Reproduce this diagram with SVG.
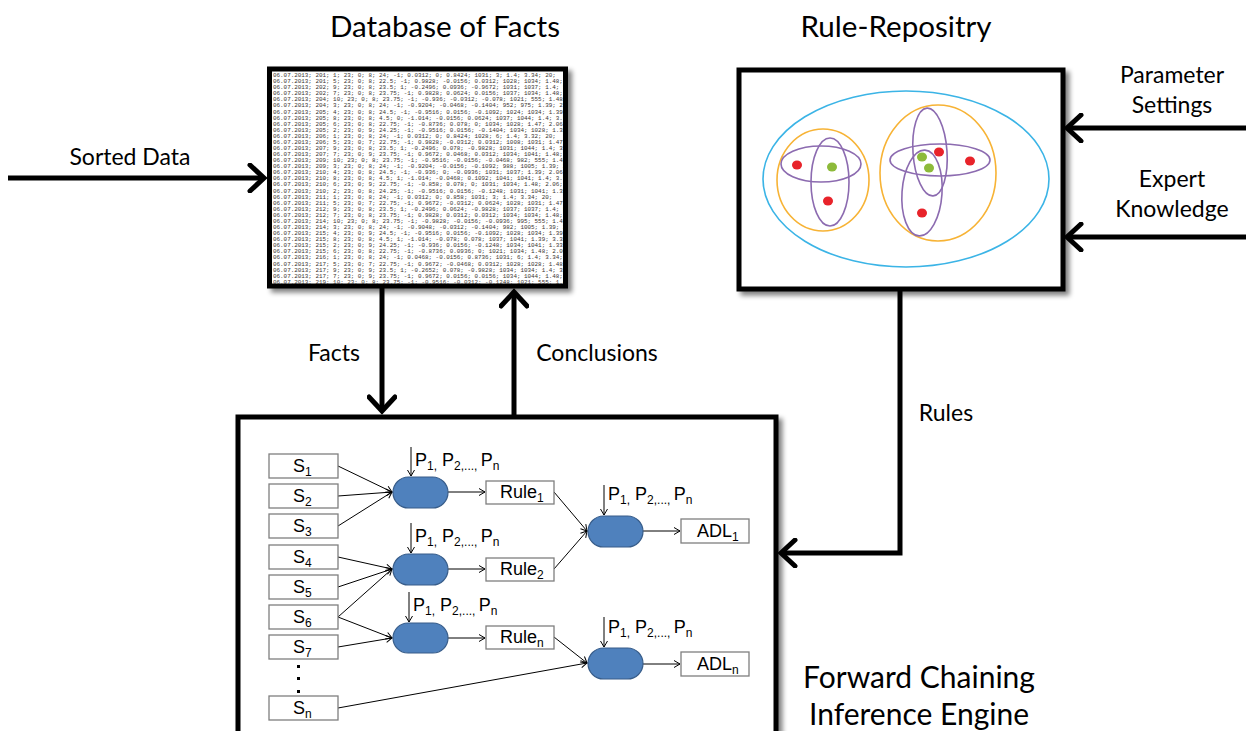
<svg xmlns="http://www.w3.org/2000/svg" width="1246" height="731" viewBox="0 0 1246 731">
<style>
.title{font-family:Lato,"Open Sans",sans-serif;font-size:29.6px;fill:#000}
.lbl{font-family:Lato,"Open Sans",sans-serif;font-size:23px;fill:#000}
.big{font-family:Lato,"Open Sans",sans-serif;font-size:30px;fill:#000}
.frame{fill:#fff;stroke:#000;stroke-width:5}
.data{font-family:"Liberation Mono",monospace;font-size:5.9px;fill:#3a3430}
.thick{stroke:#000;stroke-width:5;fill:none}
.thin{stroke:#000;stroke-width:1;fill:none}
.sbox{fill:#fff;stroke:#7f7f7f;stroke-width:1.3}
.oval{fill:#4f81bd;stroke:#385d8a;stroke-width:1.2}
.t{font-family:"Liberation Sans",Arial,sans-serif;font-size:18px;fill:#000}
.blue{fill:none;stroke:#3bb4e6;stroke-width:1.6}
.orange{fill:none;stroke:#f7b335;stroke-width:1.6}
.purple{fill:none;stroke:#8c6bb0;stroke-width:1.6}
.red{fill:#e8232a}
.green{fill:#8dba3a}
</style>
<defs>
<filter id="sh" x="-5%" y="-5%" width="115%" height="115%">
<feGaussianBlur in="SourceAlpha" stdDeviation="2.5"/>
<feOffset dx="4" dy="4" result="b"/>
<feComponentTransfer><feFuncA type="linear" slope="0.5"/></feComponentTransfer>
<feMerge><feMergeNode/><feMergeNode in="SourceGraphic"/></feMerge>
</filter>
<marker id="chev" markerUnits="userSpaceOnUse" markerWidth="30" markerHeight="30" viewBox="0 0 30 30" refX="17" refY="15" orient="auto">
<path d="M3,2 L17,15 L3,28" fill="none" stroke="#000" stroke-width="5" stroke-linecap="round" stroke-linejoin="miter"/>
</marker>
<marker id="sm" markerUnits="userSpaceOnUse" markerWidth="10" markerHeight="10" viewBox="0 0 10 10" refX="8" refY="5" orient="auto">
<path d="M2,1.5 L8,5 L2,8.5" fill="none" stroke="#000" stroke-width="1"/>
</marker>
<clipPath id="dbclip"><rect x="272" y="71" width="291" height="213"/></clipPath>
</defs>

<text class="title" x="445" y="37" text-anchor="middle">Database of Facts</text>
<text class="title" x="896" y="37" text-anchor="middle">Rule-Repositry</text>

<g id="connectors">
<path class="thick" d="M8,178 L264,178" marker-end="url(#chev)"/>
<path class="thick" d="M382,288 L382,411" marker-end="url(#chev)"/>
<path class="thick" d="M514,415 L514,292" marker-end="url(#chev)"/>
<path class="thick" d="M900,289 L900,553 L781,553" marker-end="url(#chev)"/>
<path class="thick" d="M1246,128 L1067,128" marker-end="url(#chev)"/>
<path class="thick" d="M1246,237 L1067,237" marker-end="url(#chev)"/>
</g>

<text class="lbl" x="130" y="165" text-anchor="middle">Sorted Data</text>
<text class="lbl" x="334" y="361" text-anchor="middle">Facts</text>
<text class="lbl" x="597" y="361" text-anchor="middle">Conclusions</text>
<text class="lbl" x="946" y="421" text-anchor="middle">Rules</text>
<text class="lbl" x="1172" y="83" text-anchor="middle">Parameter</text>
<text class="lbl" x="1172" y="113" text-anchor="middle">Settings</text>
<text class="lbl" x="1172" y="187" text-anchor="middle">Expert</text>
<text class="lbl" x="1172" y="217" text-anchor="middle">Knowledge</text>

<g id="database">
<rect class="frame" x="269.5" y="69" width="296" height="217" filter="url(#sh)"/>
<g clip-path="url(#dbclip)" class="data">
<text x="273" y="77">06.07.2013; 201; 1; 23; 0; 8; 24; -1; 0.0312; 0; 0.8424; 1031; 3; 1.4; 3.34; 20;</text>
<text x="273" y="83.1">06.07.2013; 201; 5; 23; 0; 8; 22.5; -1; 0.9828; -0.0156; 0.0312; 1028; 1034; 1.48; 2.08; 20;</text>
<text x="273" y="89.2">06.07.2013; 202; 9; 23; 0; 8; 23.5; 1; -0.2496; 0.0936; -0.9672; 1031; 1037; 1.4; 3.32; 150;</text>
<text x="273" y="95.2">06.07.2013; 202; 7; 23; 0; 8; 23.75; -1; 0.9828; 0.0624; 0.0156; 1037; 1034; 1.48; 2.06; 20;</text>
<text x="273" y="101.3">06.07.2013; 204; 10; 23; 0; 8; 23.75; -1; -0.936; -0.0312; -0.078; 1021; 555; 1.48; 2.06; 20;</text>
<text x="273" y="107.4">06.07.2013; 204; 3; 23; 0; 8; 24; -1; -0.9204; -0.0468; -0.1404; 952; 975; 1.39; 2.08; 4;</text>
<text x="273" y="113.5">06.07.2013; 205; 4; 23; 0; 8; 24.5; -1; -0.9516; 0.0156; -0.1092; 1024; 1034; 1.39; 2.06; 4;</text>
<text x="273" y="119.6">06.07.2013; 205; 8; 23; 0; 8; 4.5; 0; -1.014; -0.0156; 0.0624; 1037; 1044; 1.4; 3.32; 22;</text>
<text x="273" y="125.6">06.07.2013; 205; 6; 23; 0; 8; 22.75; -1; -0.8736; 0.078; 0; 1034; 1028; 1.47; 2.06; 20;</text>
<text x="273" y="131.7">06.07.2013; 205; 2; 23; 0; 9; 24.25; -1; -0.9516; 0.0156; -0.1404; 1034; 1028; 1.33; 2.06; 4;</text>
<text x="273" y="137.8">06.07.2013; 206; 1; 23; 0; 8; 24; -1; 0.0312; 0; 0.8424; 1028; 6; 1.4; 3.32; 20;</text>
<text x="273" y="143.9">06.07.2013; 206; 5; 23; 0; 7; 22.75; -1; 0.9828; -0.0312; 0.0312; 1008; 1031; 1.47; 2.08; 20;</text>
<text x="273" y="150">06.07.2013; 207; 9; 23; 0; 8; 23.5; 1; -0.2496; 0.078; -0.9828; 1031; 1044; 1.4; 3.32; 150;</text>
<text x="273" y="156">06.07.2013; 207; 7; 23; 0; 9; 23.75; -1; 0.9672; 0.0468; 0.0312; 1034; 1041; 1.48; 2.06; 20;</text>
<text x="273" y="162.1">06.07.2013; 209; 10; 23; 0; 8; 23.75; -1; -0.9516; -0.0156; -0.0468; 982; 555; 1.45; 2.06; 20;</text>
<text x="273" y="168.2">06.07.2013; 209; 3; 23; 0; 8; 24; -1; -0.9204; -0.0156; -0.1092; 988; 1005; 1.39; 2.08; 4;</text>
<text x="273" y="174.3">06.07.2013; 210; 4; 23; 0; 8; 24.5; -1; -0.936; 0; -0.0936; 1031; 1037; 1.39; 2.06; 4;</text>
<text x="273" y="180.4">06.07.2013; 210; 8; 23; 0; 8; 4.5; 1; -1.014; -0.0468; 0.1092; 1041; 1041; 1.4; 3.32; 150;</text>
<text x="273" y="186.4">06.07.2013; 210; 6; 23; 0; 9; 22.75; -1; -0.858; 0.078; 0; 1031; 1034; 1.48; 2.06; 20;</text>
<text x="273" y="192.5">06.07.2013; 210; 2; 23; 0; 8; 24.25; -1; -0.9516; 0.0156; -0.1248; 1031; 1041; 1.33; 2.06; 4;</text>
<text x="273" y="198.6">06.07.2013; 211; 1; 23; 0; 8; 24; -1; 0.0312; 0; 0.858; 1031; 3; 1.4; 3.34; 20;</text>
<text x="273" y="204.7">06.07.2013; 211; 5; 23; 0; 7; 22.75; -1; 0.9672; -0.0312; 0.0624; 1028; 1031; 1.47; 2.08; 20;</text>
<text x="273" y="210.8">06.07.2013; 212; 9; 23; 0; 8; 23.5; 1; -0.2496; 0.0624; -0.9828; 1037; 1037; 1.4; 3.32; 150;</text>
<text x="273" y="216.8">06.07.2013; 212; 7; 23; 0; 8; 23.75; -1; 0.9828; 0.0312; 0.0312; 1034; 1034; 1.48; 2.06; 20;</text>
<text x="273" y="222.9">06.07.2013; 214; 10; 23; 0; 8; 23.75; -1; -0.9828; -0.0156; -0.0936; 995; 555; 1.45; 2.06; 20;</text>
<text x="273" y="229">06.07.2013; 214; 3; 23; 0; 8; 24; -1; -0.9048; -0.0312; -0.1404; 982; 1005; 1.39; 2.08; 4;</text>
<text x="273" y="235.1">06.07.2013; 215; 4; 23; 0; 9; 24.5; -1; -0.9516; 0.0156; -0.1092; 1028; 1034; 1.39; 2.06; 4;</text>
<text x="273" y="241.2">06.07.2013; 215; 8; 23; 0; 8; 4.5; 1; -1.014; -0.078; 0.078; 1037; 1041; 1.39; 3.32; 150;</text>
<text x="273" y="247.2">06.07.2013; 215; 2; 23; 0; 9; 24.25; -1; -0.936; 0.0156; -0.1248; 1034; 1041; 1.33; 2.06; 4;</text>
<text x="273" y="253.3">06.07.2013; 215; 6; 23; 0; 8; 22.75; -1; -0.8736; 0.0936; 0; 1021; 1034; 1.48; 2.06; 20;</text>
<text x="273" y="259.4">06.07.2013; 216; 1; 23; 0; 8; 24; -1; 0.0468; -0.0156; 0.8736; 1031; 6; 1.4; 3.34; 20;</text>
<text x="273" y="265.5">06.07.2013; 217; 5; 23; 0; 7; 22.75; -1; 0.9672; -0.0468; 0.0312; 1028; 1028; 1.48; 2.08; 20;</text>
<text x="273" y="271.6">06.07.2013; 217; 9; 23; 0; 9; 23.5; 1; -0.2652; 0.078; -0.9828; 1034; 1034; 1.4; 3.32; 150;</text>
<text x="273" y="277.6">06.07.2013; 217; 7; 23; 0; 9; 23.75; -1; 0.9672; 0.0156; 0.0156; 1034; 1044; 1.48; 2.06; 20;</text>
<text x="273" y="283.7">06.07.2013; 219; 10; 23; 0; 8; 23.75; -1; -0.9516; -0.0312; -0.1248; 1021; 555; 1.46; 2.06; 20;</text>
<text x="273" y="289.8">06.07.2013; 219; 3; 23; 0; 8; 24; -1; -0.9204; -0.0156; -0.1248; 982; 1005; 1.39; 2.08; 4;</text>
</g>
</g>

<g id="rule-repository">
<rect class="frame" x="739" y="70" width="324" height="219" filter="url(#sh)"/>
<ellipse class="blue" cx="906" cy="179" rx="143" ry="88"/>
<ellipse class="orange" cx="823" cy="180" rx="46" ry="51"/>
<ellipse class="purple" cx="821" cy="164" rx="40" ry="18"/>
<ellipse class="purple" cx="830" cy="182" rx="19" ry="44"/>
<ellipse class="red" cx="797" cy="165" rx="5" ry="4.5"/>
<ellipse class="green" cx="832" cy="167" rx="5" ry="4.5"/>
<ellipse class="red" cx="828" cy="201" rx="5" ry="4.5"/>
<ellipse class="orange" cx="938" cy="173" rx="58" ry="68"/>
<ellipse class="purple" cx="940" cy="160" rx="50" ry="16"/>
<ellipse class="purple" cx="930" cy="152" rx="17" ry="44" transform="rotate(-4 930 152)"/>
<ellipse class="purple" cx="922" cy="193" rx="20" ry="43" transform="rotate(4 922 193)"/>
<ellipse class="green" cx="922" cy="157" rx="5" ry="4.5"/>
<ellipse class="red" cx="939" cy="152" rx="5" ry="4.5"/>
<ellipse class="green" cx="929" cy="168" rx="5" ry="4.5"/>
<ellipse class="red" cx="970" cy="161" rx="5" ry="4.5"/>
<ellipse class="red" cx="922" cy="213" rx="5" ry="4.5"/>
</g>

<g id="inference-engine">
<rect class="frame" x="238" y="417" width="538" height="330" filter="url(#sh)"/>
<text class="big" x="919" y="688" text-anchor="middle">Forward Chaining</text>
<text class="big" x="919" y="725" text-anchor="middle">Inference Engine</text>

<g id="engine-links">
<path class="thin" d="M338,466 L392,492" marker-end="url(#sm)"/>
<path class="thin" d="M338,496 L392,492" marker-end="url(#sm)"/>
<path class="thin" d="M338,526 L392,492" marker-end="url(#sm)"/>
<path class="thin" d="M338,557 L392,569" marker-end="url(#sm)"/>
<path class="thin" d="M338,587 L392,569" marker-end="url(#sm)"/>
<path class="thin" d="M338,617 L392,569" marker-end="url(#sm)"/>
<path class="thin" d="M338,617 L392,638" marker-end="url(#sm)"/>
<path class="thin" d="M338,647 L392,638" marker-end="url(#sm)"/>
<path class="thin" d="M338,708 L587,663" marker-end="url(#sm)"/>
<path class="thin" d="M448,492 L485,492" marker-end="url(#sm)"/>
<path class="thin" d="M448,569 L485,569" marker-end="url(#sm)"/>
<path class="thin" d="M448,638 L485,638" marker-end="url(#sm)"/>
<path class="thin" d="M554,492 L587,531" marker-end="url(#sm)"/>
<path class="thin" d="M554,569 L587,531" marker-end="url(#sm)"/>
<path class="thin" d="M554,637 L587,663" marker-end="url(#sm)"/>
<path class="thin" d="M643,531 L680,531" marker-end="url(#sm)"/>
<path class="thin" d="M643,664 L680,664" marker-end="url(#sm)"/>
<path class="thin" d="M411,447 L411,476" marker-end="url(#sm)"/>
<path class="thin" d="M411,523 L411,553" marker-end="url(#sm)"/>
<path class="thin" d="M409,592 L409,622" marker-end="url(#sm)"/>
<path class="thin" d="M604,485 L604,515" marker-end="url(#sm)"/>
<path class="thin" d="M604,617 L604,647" marker-end="url(#sm)"/>
</g>

<g id="S1"><rect class="sbox" x="269" y="454" width="69" height="24"/><text class="t" x="293" y="472">S<tspan font-size="12" dy="4">1</tspan></text></g>
<g id="S2"><rect class="sbox" x="269" y="484" width="69" height="24"/><text class="t" x="293" y="502">S<tspan font-size="12" dy="4">2</tspan></text></g>
<g id="S3"><rect class="sbox" x="269" y="514" width="69" height="24"/><text class="t" x="293" y="532">S<tspan font-size="12" dy="4">3</tspan></text></g>
<g id="S4"><rect class="sbox" x="269" y="545" width="69" height="24"/><text class="t" x="293" y="563">S<tspan font-size="12" dy="4">4</tspan></text></g>
<g id="S5"><rect class="sbox" x="269" y="575" width="69" height="24"/><text class="t" x="293" y="593">S<tspan font-size="12" dy="4">5</tspan></text></g>
<g id="S6"><rect class="sbox" x="269" y="605" width="69" height="24"/><text class="t" x="293" y="623">S<tspan font-size="12" dy="4">6</tspan></text></g>
<g id="S7"><rect class="sbox" x="269" y="635" width="69" height="24"/><text class="t" x="293" y="653">S<tspan font-size="12" dy="4">7</tspan></text></g>
<g id="dots"><rect x="297" y="665" width="3" height="3"/><rect x="297" y="677" width="3" height="3"/><rect x="297" y="690" width="3" height="3"/></g>
<g id="Sn"><rect class="sbox" x="269" y="696" width="69" height="24"/><text class="t" x="293" y="714">S<tspan font-size="12" dy="4">n</tspan></text></g>

<g id="op1"><rect class="oval" x="393" y="477" width="55" height="31" rx="15.5"/></g>
<g id="op2"><rect class="oval" x="393" y="554" width="55" height="31" rx="15.5"/></g>
<g id="op3"><rect class="oval" x="393" y="623" width="55" height="30" rx="15"/></g>
<g id="op4"><rect class="oval" x="588" y="516" width="55" height="31" rx="15.5"/></g>
<g id="op5"><rect class="oval" x="588" y="648" width="55" height="31" rx="15.5"/></g>

<g id="params">
<text class="t" x="415" y="466">P<tspan font-size="12" dy="4">1,</tspan><tspan dy="-4"> P</tspan><tspan font-size="12" dy="4">2,..., </tspan><tspan dy="-4">P</tspan><tspan font-size="12" dy="4">n</tspan></text>
<text class="t" x="415" y="542">P<tspan font-size="12" dy="4">1,</tspan><tspan dy="-4"> P</tspan><tspan font-size="12" dy="4">2,..., </tspan><tspan dy="-4">P</tspan><tspan font-size="12" dy="4">n</tspan></text>
<text class="t" x="413" y="611">P<tspan font-size="12" dy="4">1,</tspan><tspan dy="-4"> P</tspan><tspan font-size="12" dy="4">2,..., </tspan><tspan dy="-4">P</tspan><tspan font-size="12" dy="4">n</tspan></text>
<text class="t" x="608" y="500">P<tspan font-size="12" dy="4">1,</tspan><tspan dy="-4"> P</tspan><tspan font-size="12" dy="4">2,..., </tspan><tspan dy="-4">P</tspan><tspan font-size="12" dy="4">n</tspan></text>
<text class="t" x="608" y="633">P<tspan font-size="12" dy="4">1,</tspan><tspan dy="-4"> P</tspan><tspan font-size="12" dy="4">2,..., </tspan><tspan dy="-4">P</tspan><tspan font-size="12" dy="4">n</tspan></text>
</g>

<g id="Rule1"><rect class="sbox" x="486" y="481" width="68" height="23"/><text class="t" x="500" y="498">Rule<tspan font-size="12" dy="4">1</tspan></text></g>
<g id="Rule2"><rect class="sbox" x="486" y="558" width="68" height="23"/><text class="t" x="500" y="575">Rule<tspan font-size="12" dy="4">2</tspan></text></g>
<g id="Rulen"><rect class="sbox" x="486" y="626" width="68" height="23"/><text class="t" x="500" y="643">Rule<tspan font-size="12" dy="4">n</tspan></text></g>
<g id="ADL1"><rect class="sbox" x="681" y="519" width="68" height="24"/><text class="t" x="697" y="537">ADL<tspan font-size="12" dy="4">1</tspan></text></g>
<g id="ADLn"><rect class="sbox" x="681" y="652" width="68" height="24"/><text class="t" x="697" y="670">ADL<tspan font-size="12" dy="4">n</tspan></text></g>
</g>
</svg>
